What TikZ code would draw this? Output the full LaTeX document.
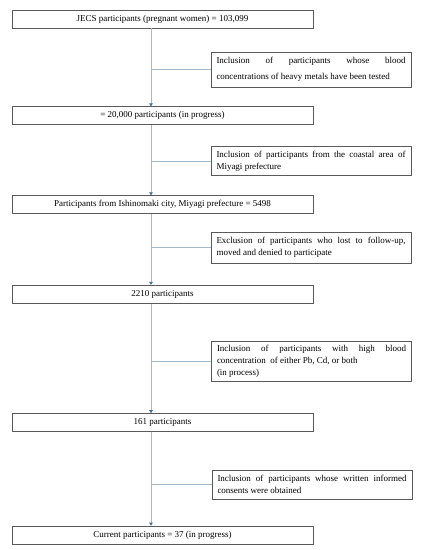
\documentclass[tikz,border=0pt]{standalone}
\usepackage{fontspec}
\setmainfont{Liberation Serif}
\usetikzlibrary{arrows.meta}
\definecolor{flowline}{RGB}{165,185,205}
\definecolor{tipblue}{RGB}{70,105,165}
\definecolor{boxline}{RGB}{90,90,90}
\begin{document}
\begin{tikzpicture}[x=1pt,y=-1pt,
  mainbox/.style={draw=boxline,line width=0.6pt,minimum width=301pt,minimum height=18pt,inner sep=0pt,font=\fontsize{9}{12}\selectfont},
  sidebox/.style={draw=boxline,line width=0.6pt,minimum width=200pt,inner xsep=5.5pt,inner ysep=0pt,text width=189pt,align=justify,font=\fontsize{9}{12}\selectfont},
  flow/.style={draw=flowline,line width=0.7pt,-{Triangle[length=3pt,width=3.5pt,color=tipblue]}},
  branch/.style={draw=flowline,line width=0.7pt}]
\useasboundingbox (0,0) rectangle (421,550);
\node[mainbox] (b1) at (162.5,19) {JECS participants (pregnant women) = 103,099};
\node[mainbox] (b2) at (162.5,115.7) {= 20,000 participants (in progress)};
\node[mainbox] (b3) at (162.5,204.7) {Participants from Ishinomaki city, Miyagi prefecture = 5498};
\node[mainbox] (b4) at (162.5,294.2) {2210 participants};
\node[mainbox] (b5) at (162.5,422.5) {161 participants};
\node[mainbox] (b6) at (162.5,535) {Current participants = 37 (in progress)};
\node[sidebox,minimum height=35pt,font=\fontsize{9}{16}\selectfont] (s1) at (311,69.5) {Inclusion of participants whose blood\linebreak concentrations of heavy metals have been tested};
\node[sidebox,minimum height=29pt] (s2) at (311,161.2) {Inclusion of participants from the coastal area of\linebreak Miyagi prefecture};
\node[sidebox,minimum height=30.7pt] (s3) at (311,247.5) {Exclusion of participants who lost to follow-up,\linebreak moved and denied to participate};
\node[sidebox,minimum height=40.7pt] (s4) at (311.5,361.3) {Inclusion of participants with high blood\linebreak concentration\ \ of either Pb, Cd, or both\\ (in process)};
\node[sidebox,minimum height=29pt] (s5) at (312,484.5) {Inclusion of participants whose written informed\linebreak consents were obtained};
\coordinate (x) at (151,0);
\draw[flow] (b1.south -| x) -- (b2.north -| x);
\draw[flow] (b2.south -| x) -- (b3.north -| x);
\draw[flow] (b3.south -| x) -- (b4.north -| x);
\draw[flow] (b4.south -| x) -- (b5.north -| x);
\draw[flow] (b5.south -| x) -- (b6.north -| x);
\draw[branch] (s1.west -| x) -- (s1.west);
\draw[branch] (s2.west -| x) -- (s2.west);
\draw[branch] (s3.west -| x) -- (s3.west);
\draw[branch] (s4.west -| x) -- (s4.west);
\draw[branch] (s5.west -| x) -- (s5.west);
\end{tikzpicture}
\end{document}
